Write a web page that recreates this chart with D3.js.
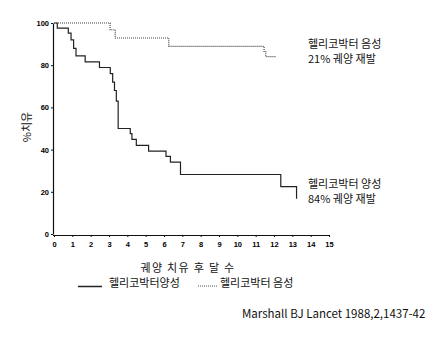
<!DOCTYPE html>
<html>
<head>
<meta charset="utf-8">
<script src="https://cdn.jsdelivr.net/npm/d3@7"></script>
<style>
  body { margin: 0; background: #fff; }
  svg { display: block; }
  .tick text { font-family: "Liberation Sans", Arial, sans-serif; font-weight: bold; font-size: 7.5px; }
  .label { font-family: "Noto Sans CJK KR", "DejaVu Sans", sans-serif; font-size: 11px; fill: #111; }
</style>
</head>
<body>
<div id="chart"></div>
<script>
// Kaplan-Meier style curves: months after ulcer healing vs % healed
const posMonths = [0, 0.18, 0.78, 0.93, 1.07, 1.2, 1.7, 2.48, 3.07, 3.2, 3.3, 3.4, 3.5, 4.16, 4.25, 4.49, 5.16, 6.11, 6.35, 6.9, 12.37, 13.23];
const posValues = [100, 97.6, 95.2, 92, 88, 84.4, 81.6, 78.9, 76, 72, 68, 63, 50, 47.6, 44.8, 42, 39.3, 36.8, 34.1, 28.2, 22.5, 16.7];
const negMonths = [0, 3.06, 3.34, 6.26, 11.46, 11.55, 12.1];
const negValues = [100, 96.8, 92.9, 88.9, 86.5, 84.1, 84.1];
const xTicks = d3.range(0, 16);
const yTicks = [0, 20, 40, 60, 80, 100];

const width = 443, height = 352;
const svg = d3.select("#chart").append("svg")
    .attr("width", width)
    .attr("height", height);

const x = d3.scaleLinear().domain([0, 15]).range([54, 329]);
const y = d3.scaleLinear().domain([0, 100]).range([234, 23]);

// x axis
const xAxis = svg.append("g")
    .attr("transform", "translate(0,235)")
    .call(d3.axisBottom(x).tickValues(xTicks).tickSize(2).tickPadding(5).tickSizeOuter(0));
xAxis.select(".domain").attr("d", "M53,0.5H329");

// y axis
svg.append("g")
    .attr("transform", "translate(53,0)")
    .call(d3.axisLeft(y).tickValues(yTicks).tickSize(2).tickPadding(2).tickSizeOuter(0));

svg.selectAll(".domain").attr("stroke", "#111").attr("stroke-width", 1.2);
svg.selectAll(".tick line").attr("stroke", "#111");

const line = d3.line()
    .x(d => x(d[0]))
    .y(d => y(d[1]))
    .curve(d3.curveStepAfter);

// H. pylori positive (solid)
svg.append("path")
    .datum(posMonths.map((m, i) => [m, posValues[i]]))
    .attr("fill", "none")
    .attr("stroke", "#222")
    .attr("stroke-width", 1.2)
    .attr("d", line);

// H. pylori negative (dotted)
svg.append("path")
    .datum(negMonths.map((m, i) => [m, negValues[i]]))
    .attr("fill", "none")
    .attr("stroke", "#444")
    .attr("stroke-width", 1.2)
    .attr("stroke-dasharray", "1,1")
    .attr("d", line);

// curve annotations
const notes = [
  {lines: ["헬리코박터 음성", "21% 궤양 재발"], x: 308, y: 48},
  {lines: ["헬리코박터 양성", "84% 궤양 재발"], x: 308, y: 188}
];
notes.forEach(n => {
  n.lines.forEach((t, i) => {
    svg.append("text").attr("class", "label")
        .attr("x", n.x).attr("y", n.y + i * 15)
        .text(t);
  });
});

// y-axis label
svg.append("text")
    .attr("class", "label")
    .attr("transform", "rotate(-90)")
    .attr("x", -127)
    .attr("y", 31)
    .style("text-anchor", "middle")
    .text("%치유");

// x-axis label
svg.append("text")
    .attr("class", "label")
    .attr("x", 188)
    .attr("y", 272)
    .style("text-anchor", "middle")
    .style("letter-spacing", "1.3px")
    .text("궤양 치유 후 달 수");

// legend
svg.append("line")
    .attr("x1", 78).attr("x2", 102).attr("y1", 286.5).attr("y2", 286.5)
    .attr("stroke", "#222").attr("stroke-width", 1.5);
svg.append("text").attr("class", "label")
    .attr("x", 109).attr("y", 287).text("헬리코박터양성");
svg.append("line")
    .attr("x1", 198).attr("x2", 218).attr("y1", 286).attr("y2", 286)
    .attr("stroke", "#555").attr("stroke-width", 1).attr("stroke-dasharray", "1,1");
svg.append("text").attr("class", "label")
    .attr("x", 220).attr("y", 287).text("헬리코박터 음성");

// citation
svg.append("text").attr("class", "label")
    .attr("x", 242).attr("y", 318)
    .style("font-size", "11.5px")
    .text("Marshall BJ Lancet 1988,2,1437-42");
</script>
</body>
</html>
